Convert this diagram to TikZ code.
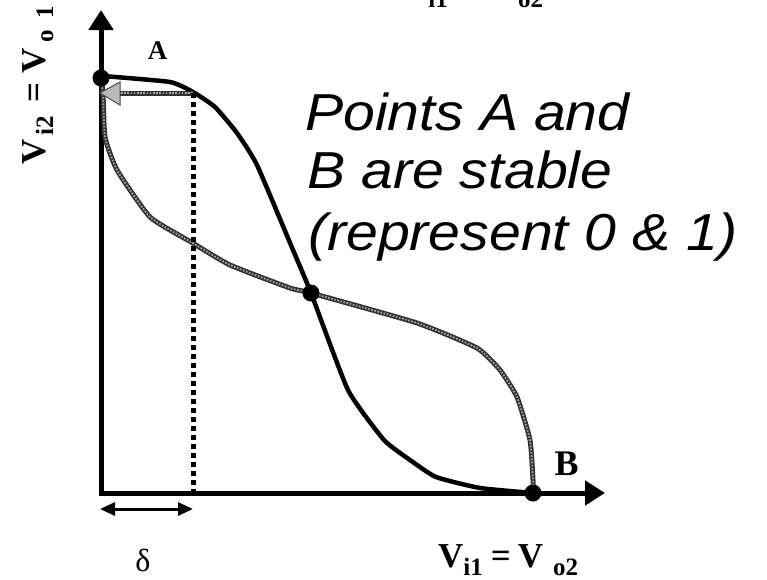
\documentclass[tikz,border=0pt]{standalone}
\usepackage{fontspec}
\usepackage{graphicx}
\setmainfont{Liberation Serif}
\newfontfamily\arifont{Liberation Sans}
\usetikzlibrary{arrows.meta}
\newcommand\sbx[1]{\raisebox{-8pt}{\fontsize{25}{28}\selectfont #1}}
\newcommand\ptxt{\arifont\itshape\fontsize{52}{60}\selectfont}
\newcommand\vlab{\bfseries\fontsize{35}{40}\selectfont}
\begin{document}
\begin{tikzpicture}[x=1pt,y=-1pt,
  axisline/.style={line width=5pt, line cap=rect, -{Triangle[length=20pt,width=24pt]}},
  blackcurve/.style={line width=4.5pt, line join=round, line cap=round},
  graytex/.style={line width=5pt, draw=black!80, line join=round,
     postaction={draw=gray!70, line width=1.8pt, dash pattern=on 1.6pt off 1.6pt}},
  dashline/.style={line width=5pt, dash pattern=on 4.5pt off 4.5pt},
  dimarrow/.style={line width=3pt, {Triangle[length=15pt,width=13pt]}-{Triangle[length=15pt,width=13pt]}},
  dot/.style={circle, fill=black, inner sep=0pt, minimum size=17pt},
  lbl/.style={inner sep=0pt, anchor=base west},
  ptlbl/.style={inner sep=0pt, anchor=base, font=\bfseries}
]
\clip (0,0) rectangle (767,579);
\fill[white] (0,0) rectangle (767,579);

% key coordinates
\coordinate (O) at (101,493);
\coordinate (Ytip) at (101,10);
\coordinate (Xtip) at (605,493);
\coordinate (pA) at (101,78);
\coordinate (pM) at (311,293);
\coordinate (pB) at (533,493);
\coordinate (P) at (193,93);
\coordinate (Q) at (100,93);
\coordinate (Qb) at (120,93);
\coordinate (D1) at (100,509);
\coordinate (D2) at (193,509);

% axes
\draw[axisline] (O) -- (Ytip);
\draw[axisline] (O) -- (Xtip);

% gray (mirrored) curve
\draw[graytex] plot[smooth, tension=0.3] coordinates {(pA) (103,93) (105,137) (117,170) (150,217) (191,242) (230,265) (290,288) (pM) (417,323) (477,348) (500,370) (517,397) (530,440) (533,480) (pB)};

% black curve
\draw[blackcurve] plot[smooth, tension=0.3] coordinates {(103,76) (170,82) (193,92) (215,107) (237,133) (257,165) (293,250) (pM) (348,390) (384,440) (410,460) (436,477) (480,488) (pB)};

% gray arrow towards A
\draw[graytex] (P) -- (Qb);
\fill[gray!55, draw=black!70, line width=1pt] (Q) -- (120,82) -- (120,105) -- cycle;

% dashed projection
\draw[dashline] (P) -- (P |- O);

% delta dimension
\draw[dimarrow] (D1) -- (D2);
\node (delta) at (143,560) {\fontsize{32}{36}\selectfont δ};

% points
\node[dot] (A) at (pA) {};
\node[dot] (M) at (pM) {};
\node[dot] (B) at (pB) {};
\node[ptlbl, font=\bfseries\fontsize{27}{30}\selectfont] (Alab) at (157.5,59) {A};
\node[ptlbl, font=\bfseries\fontsize{36}{40}\selectfont] (Blab) at (566.5,475) {B};

% axis labels
\node[lbl] (xlab) at (438,567) {\vlab V\sbx{i1}\hspace{8pt}=\hspace{7pt}V\hspace{10pt}\sbx{o2}};
\node[lbl] (xlabtop) at (403,-1) {\vlab V\sbx{i1}\hspace{8pt}=\hspace{7pt}V\hspace{10pt}\sbx{o2}};
\node[lbl, rotate=90] (ylab) at (45,165) {\vlab V\hspace{4pt}\sbx{i2}\hspace{14pt}=\hspace{9pt}V\hspace{5pt}\sbx{o}\hspace{12pt}\sbx{1}};

% statement
\node[lbl] (t1) at (305,130) {\scalebox{1.1}[1]{\ptxt Points A and}};
\node[lbl] (t2) at (307,188) {\scalebox{1.1}[1]{\ptxt B are stable}};
\node[lbl] (t3) at (308,250) {\scalebox{1.1}[1]{\ptxt (represent 0 \& 1)}};
\end{tikzpicture}
\end{document}
